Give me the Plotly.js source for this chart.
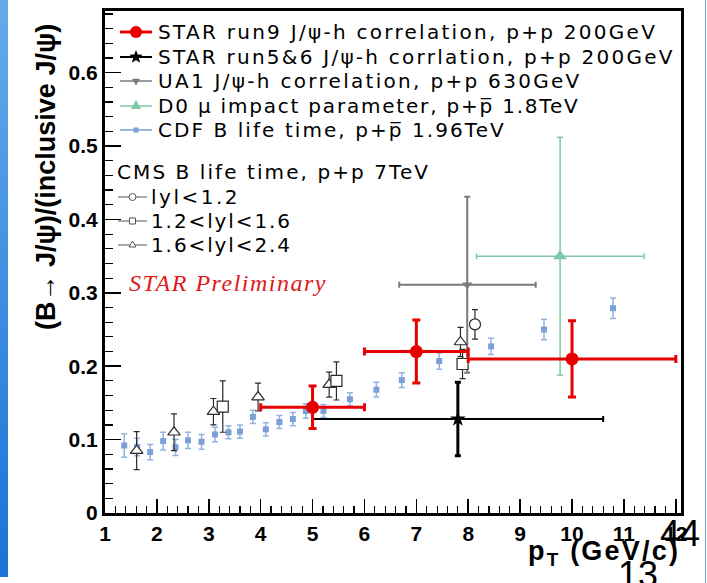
<!DOCTYPE html>
<html>
<head>
<meta charset="utf-8">
<script src="https://cdn.plot.ly/plotly-3.0.1.min.js"></script>
<style>
html,body{margin:0;padding:0;background:#fff;overflow:hidden;}
#wrap{position:relative;width:707px;height:583px;}
#plot{position:absolute;left:0;top:0;width:707px;height:583px;}
.edgeL{position:absolute;left:0;top:0;width:8px;height:577px;background:linear-gradient(#64abea,#1a72d8);pointer-events:none;}
.edgeR{position:absolute;left:705px;top:0;width:1px;height:583px;background:#5aa6ec;pointer-events:none;}
</style>
</head>
<body>
<div id="wrap">
  <div id="plot"></div>
  <div class="edgeL"></div>
  <div class="edgeR"></div>
</div>
<script>
// ---- Data ----
// STAR run9 J/psi-h correlation, p+p 200 GeV
const star9X    = [5, 7, 10];
const star9Y    = [0.144, 0.220, 0.210];
const star9Xerr = [1, 1, 2];
const star9Yerr = [0.029, 0.043, 0.052];

// STAR run5&6 J/psi-h correlation
const star56X    = [7.8];
const star56Y    = [0.128];
const star56Xerr = [2.8];
const star56Yerr = [0.050];

// UA1 J/psi-h correlation, p+p 630 GeV
const ua1X         = [7.98];
const ua1Y         = [0.311];
const ua1XerrMinus = [1.31];
const ua1XerrPlus  = [1.32];
const ua1Yerr      = [0.120];

// D0 mu impact parameter, p+pbar 1.8 TeV
const d0X         = [9.77];
const d0Y         = [0.350];
const d0XerrMinus = [1.61];
const d0XerrPlus  = [1.62];
const d0Yerr      = [0.162];

// CDF B life time, p+pbar 1.96 TeV
const cdfX    = [1.37, 1.62, 1.87, 2.12, 2.36, 2.60, 2.86, 3.12, 3.38, 3.60, 3.85, 4.10, 4.36, 4.62, 4.87, 5.21, 5.72, 6.23, 6.72, 7.44, 8.44, 9.46, 10.79];
const cdfY    = [0.092, 0.090, 0.083, 0.098, 0.0895, 0.099, 0.097, 0.107, 0.110, 0.111, 0.131, 0.114, 0.124, 0.128, 0.139, 0.139, 0.155, 0.168, 0.181, 0.207, 0.227, 0.250, 0.279];
const cdfYerr = [0.016, 0.012, 0.0105, 0.012, 0.011, 0.011, 0.010, 0.010, 0.009, 0.009, 0.009, 0.009, 0.009, 0.009, 0.010, 0.009, 0.009, 0.010, 0.010, 0.011, 0.011, 0.014, 0.014];

// CMS B life time, p+p 7 TeV
const cmsAX    = [8.13];                     // |y|<1.2
const cmsAY    = [0.257];
const cmsAYerr = [0.020];
const cmsBX    = [3.27, 5.46, 7.89];         // 1.2<|y|<1.6
const cmsBY    = [0.145, 0.180, 0.203];
const cmsBYerr = [0.035, 0.026, 0.020];
const cmsCX    = [1.61, 2.33, 3.09, 3.95, 5.32, 7.85];   // 1.6<|y|<2.4
const cmsCY    = [0.085, 0.110, 0.138, 0.158, 0.175, 0.233];
const cmsCYerr = [0.026, 0.025, 0.018, 0.019, 0.017, 0.020];

// Legend / label texts
const labels = {
  star9: 'STAR run9 J/ψ-h correlation, p+p 200GeV',
  star56: 'STAR run5&6 J/ψ-h corrlation, p+p 200GeV',
  ua1: 'UA1 J/ψ-h correlation, p+p 630GeV',
  d0: 'D0 μ impact parameter, p+p\u0305 1.8TeV',
  cdf: 'CDF B life time, p+p\u0305 1.96TeV',
  cmsTitle: 'CMS B life time, p+p 7TeV',
  cmsA: 'lyl<1.2',
  cmsB: '1.2<lyl<1.6',
  cmsC: '1.6<lyl<2.4'
};

// ---- Styles ----
const RED = '#e60000', GREY = '#7a7a7a', GREEN = '#7fc7a5', BLUE = '#7b9fd6', BLUE_ERR = '#93b3e2', CMS = '#2a2a2a';
const FONT = 'Liberation Sans, Arial, Helvetica, sans-serif';
const LFONT = 'DejaVu Sans, Liberation Sans, sans-serif';

// plot-area geometry (pixels) used to place decorations in paper coordinates
const L = 105, T = 11, W = 576, H = 502;
const PX = (px) => (px - L) / W;
const PY = (py) => (T + H - py) / H;

function ebar(arr, color, thick, w, minus) {
  const e = {type: 'data', array: arr, color: color, thickness: thick, width: w, visible: true};
  if (minus) { e.symmetric = false; e.arrayminus = minus; }
  return e;
}

const data = [];
data.push({x: cdfX, y: cdfY, mode: 'markers', type: 'scatter', name: 'CDF',
  marker: {symbol: 'square', size: 6, color: BLUE},
  error_y: ebar(cdfYerr, BLUE_ERR, 1.5, 3)});
data.push({x: d0X, y: d0Y, mode: 'markers', type: 'scatter', name: 'D0',
  marker: {symbol: 'triangle-up', size: 12, color: GREEN},
  error_y: ebar(d0Yerr, GREEN, 1.5, 3),
  error_x: ebar(d0XerrPlus, GREEN, 1.5, 3, d0XerrMinus)});
data.push({x: ua1X, y: ua1Y, mode: 'markers', type: 'scatter', name: 'UA1',
  marker: {symbol: 'triangle-down', size: 9, color: GREY},
  error_y: ebar(ua1Yerr, GREY, 2, 3),
  error_x: ebar(ua1XerrPlus, GREY, 2, 3, ua1XerrMinus)});
const cmsMarker = (sym) => ({symbol: sym, size: 11, color: 'white', line: {color: CMS, width: 1.2}});
data.push({x: cmsCX, y: cmsCY, mode: 'markers', type: 'scatter', name: 'CMS 1.6-2.4',
  marker: cmsMarker('triangle-up'), error_y: ebar(cmsCYerr, CMS, 1.2, 3)});
data.push({x: cmsBX, y: cmsBY, mode: 'markers', type: 'scatter', name: 'CMS 1.2-1.6',
  marker: cmsMarker('square'), error_y: ebar(cmsBYerr, CMS, 1.2, 3)});
data.push({x: cmsAX, y: cmsAY, mode: 'markers', type: 'scatter', name: 'CMS <1.2',
  marker: cmsMarker('circle'), error_y: ebar(cmsAYerr, CMS, 1.2, 3)});
data.push({x: star56X, y: star56Y, mode: 'markers', type: 'scatter', name: 'STAR run5&6',
  marker: {symbol: 'star', size: 12, color: '#000'},
  error_y: ebar(star56Yerr, '#000', 3, 3),
  error_x: ebar(star56Xerr, '#000', 2, 3)});
data.push({x: star9X, y: star9Y, mode: 'markers', type: 'scatter', name: 'STAR run9',
  marker: {symbol: 'circle', size: 13, color: RED},
  error_y: ebar(star9Yerr, RED, 3, 4),
  error_x: ebar(star9Xerr, RED, 3, 4)});

// ---- Hand-made ROOT-style legend (line + marker glyph + text) ----
const shapes = [];
const annotations = [];
function pathPoly(pts) { return 'M' + pts.map(p => p[0].toFixed(2) + ',' + p[1].toFixed(2)).join(' L') + ' Z'; }
function glyph(kind, cx, cy, r, fill, stroke, lw) {
  const base = {xref: 'paper', yref: 'paper', xsizemode: 'pixel', ysizemode: 'pixel',
    xanchor: PX(cx), yanchor: PY(cy), fillcolor: fill, line: {color: stroke, width: lw}, layer: 'above'};
  if (kind === 'circle' || kind === 'square') {
    return Object.assign(base, {type: kind === 'circle' ? 'circle' : 'rect', x0: -r, x1: r, y0: -r, y1: r});
  }
  let pts = [];
  if (kind === 'star') {
    for (let k = 0; k < 10; k++) {
      const a = Math.PI / 2 + k * Math.PI / 5, rr = (k % 2 === 0) ? r : r * 0.42;
      pts.push([rr * Math.cos(a), rr * Math.sin(a)]);
    }
  } else {
    const s = kind === 'tri-up' ? 1 : -1;
    [90, 210, 330].forEach(d => { const a = d * Math.PI / 180; pts.push([r * Math.cos(a), s * r * Math.sin(a)]); });
  }
  return Object.assign(base, {type: 'path', path: pathPoly(pts)});
}
function legText(text, cy, tx, ls) {
  annotations.push({text: '<span style="letter-spacing:' + ls + 'px">' + text.replace(/&/g, '&amp;').replace(/</g, '&lt;') + '</span>',
    xref: 'paper', yref: 'paper', x: PX(tx), y: PY(cy), xanchor: 'left', yanchor: 'middle', align: 'left',
    showarrow: false, borderpad: 0, font: {family: LFONT, size: 20, color: '#000'}});
}
function legRow(text, cy, x0, x1, tx, ls, lineColor, lineW, g) {
  shapes.push({type: 'line', xref: 'paper', yref: 'paper', x0: PX(x0), x1: PX(x1), y0: PY(cy), y1: PY(cy),
    line: {color: lineColor, width: lineW}, layer: 'above'});
  shapes.push(glyph(g.kind, (x0 + x1) / 2, cy, g.r, g.fill, g.stroke, g.lw));
  legText(text, cy, tx, ls);
}
legRow(labels.star9, 32, 120, 152, 157, 2.28, RED, 3, {kind: 'circle', r: 6, fill: RED, stroke: RED, lw: 0});
legRow(labels.star56, 57, 120, 152, 157, 2.25, '#000', 2, {kind: 'star', r: 7, fill: '#000', stroke: '#000', lw: 0});
legRow(labels.ua1, 81, 120, 152, 157, 2.3, GREY, 1.5, {kind: 'tri-down', r: 4.5, fill: GREY, stroke: GREY, lw: 0});
legRow(labels.d0, 106, 120, 152, 157, 1.8, GREEN, 1.5, {kind: 'tri-up', r: 6, fill: GREEN, stroke: GREEN, lw: 0});
legRow(labels.cdf, 130, 120, 152, 157, 2.07, BLUE, 1.5, {kind: 'square', r: 2.5, fill: BLUE, stroke: BLUE, lw: 0});
legText(labels.cmsTitle, 172, 116, 2.08);
legRow(labels.cmsA, 197, 118, 147, 150, 2.5, '#555', 1, {kind: 'circle', r: 3.5, fill: 'white', stroke: '#555', lw: 1});
legRow(labels.cmsB, 221, 118, 147, 150, 1.9, '#555', 1, {kind: 'square', r: 3, fill: 'white', stroke: '#555', lw: 1});
legRow(labels.cmsC, 245, 118, 147, 150, 1.9, '#555', 1, {kind: 'tri-up', r: 4, fill: 'white', stroke: '#555', lw: 1});

annotations.push(
  {text: '(B→ J/ψ)/(inclusive J/ψ)', xref: 'paper', yref: 'paper', x: PX(46), y: PY(177),
    xanchor: 'center', yanchor: 'middle', textangle: -90, showarrow: false,
    font: {family: FONT, size: 27, color: '#000', weight: 'bold'}},
  {text: '<span style="letter-spacing:2.2px">p<sub>T</sub> (GeV/c)</span>', xref: 'paper', yref: 'paper', x: PX(681), y: PY(553),
    xanchor: 'right', yanchor: 'middle', showarrow: false, borderpad: 0,
    font: {family: FONT, size: 27, color: '#000', weight: 'bold'}},
  {text: '<i><span style="letter-spacing:1.5px">STAR Preliminary</span></i>', xref: 'paper', yref: 'paper', x: PX(228), y: PY(283),
    xanchor: 'center', yanchor: 'middle', showarrow: false,
    font: {family: 'Liberation Serif, Times New Roman, serif', size: 24, color: '#e01818'}},
  {text: '44', xref: 'paper', yref: 'paper', x: PX(680), y: PY(533),
    xanchor: 'center', yanchor: 'middle', showarrow: false,
    font: {family: FONT, size: 36, color: '#000'}},
  {text: '13', xref: 'paper', yref: 'paper', x: PX(638), y: PY(574),
    xanchor: 'center', yanchor: 'middle', showarrow: false,
    font: {family: FONT, size: 36, color: '#000'}}
);

const axisCommon = {
  showline: true, linewidth: 3, linecolor: '#000', mirror: true,
  showgrid: false, zeroline: false, ticks: 'inside', tickcolor: '#000',
  tickfont: {family: FONT, size: 21, color: '#000', weight: 'bold'},
  fixedrange: true
};

const layout = {
  width: 707, height: 583,
  margin: {l: L, r: 707 - L - W, t: T, b: 583 - T - H, pad: 0},
  paper_bgcolor: '#fff', plot_bgcolor: '#fff',
  showlegend: false,
  xaxis: Object.assign({}, axisCommon, {range: [1, 12.1], tick0: 1, dtick: 1, ticklen: 14, tickwidth: 1.5,
    minor: {dtick: 0.2, ticks: 'inside', ticklen: 7, tickwidth: 1.2, tickcolor: '#000'}}),
  yaxis: Object.assign({}, axisCommon, {range: [0, 0.684], tick0: 0, dtick: 0.1, ticklen: 16, tickwidth: 1.5,
    minor: {dtick: 0.02, ticks: 'inside', ticklen: 8, tickwidth: 1.2, tickcolor: '#000'}}),
  shapes: shapes,
  annotations: annotations
};

Plotly.newPlot('plot', data, layout, {displayModeBar: false, staticPlot: true});
</script>
</body>
</html>
